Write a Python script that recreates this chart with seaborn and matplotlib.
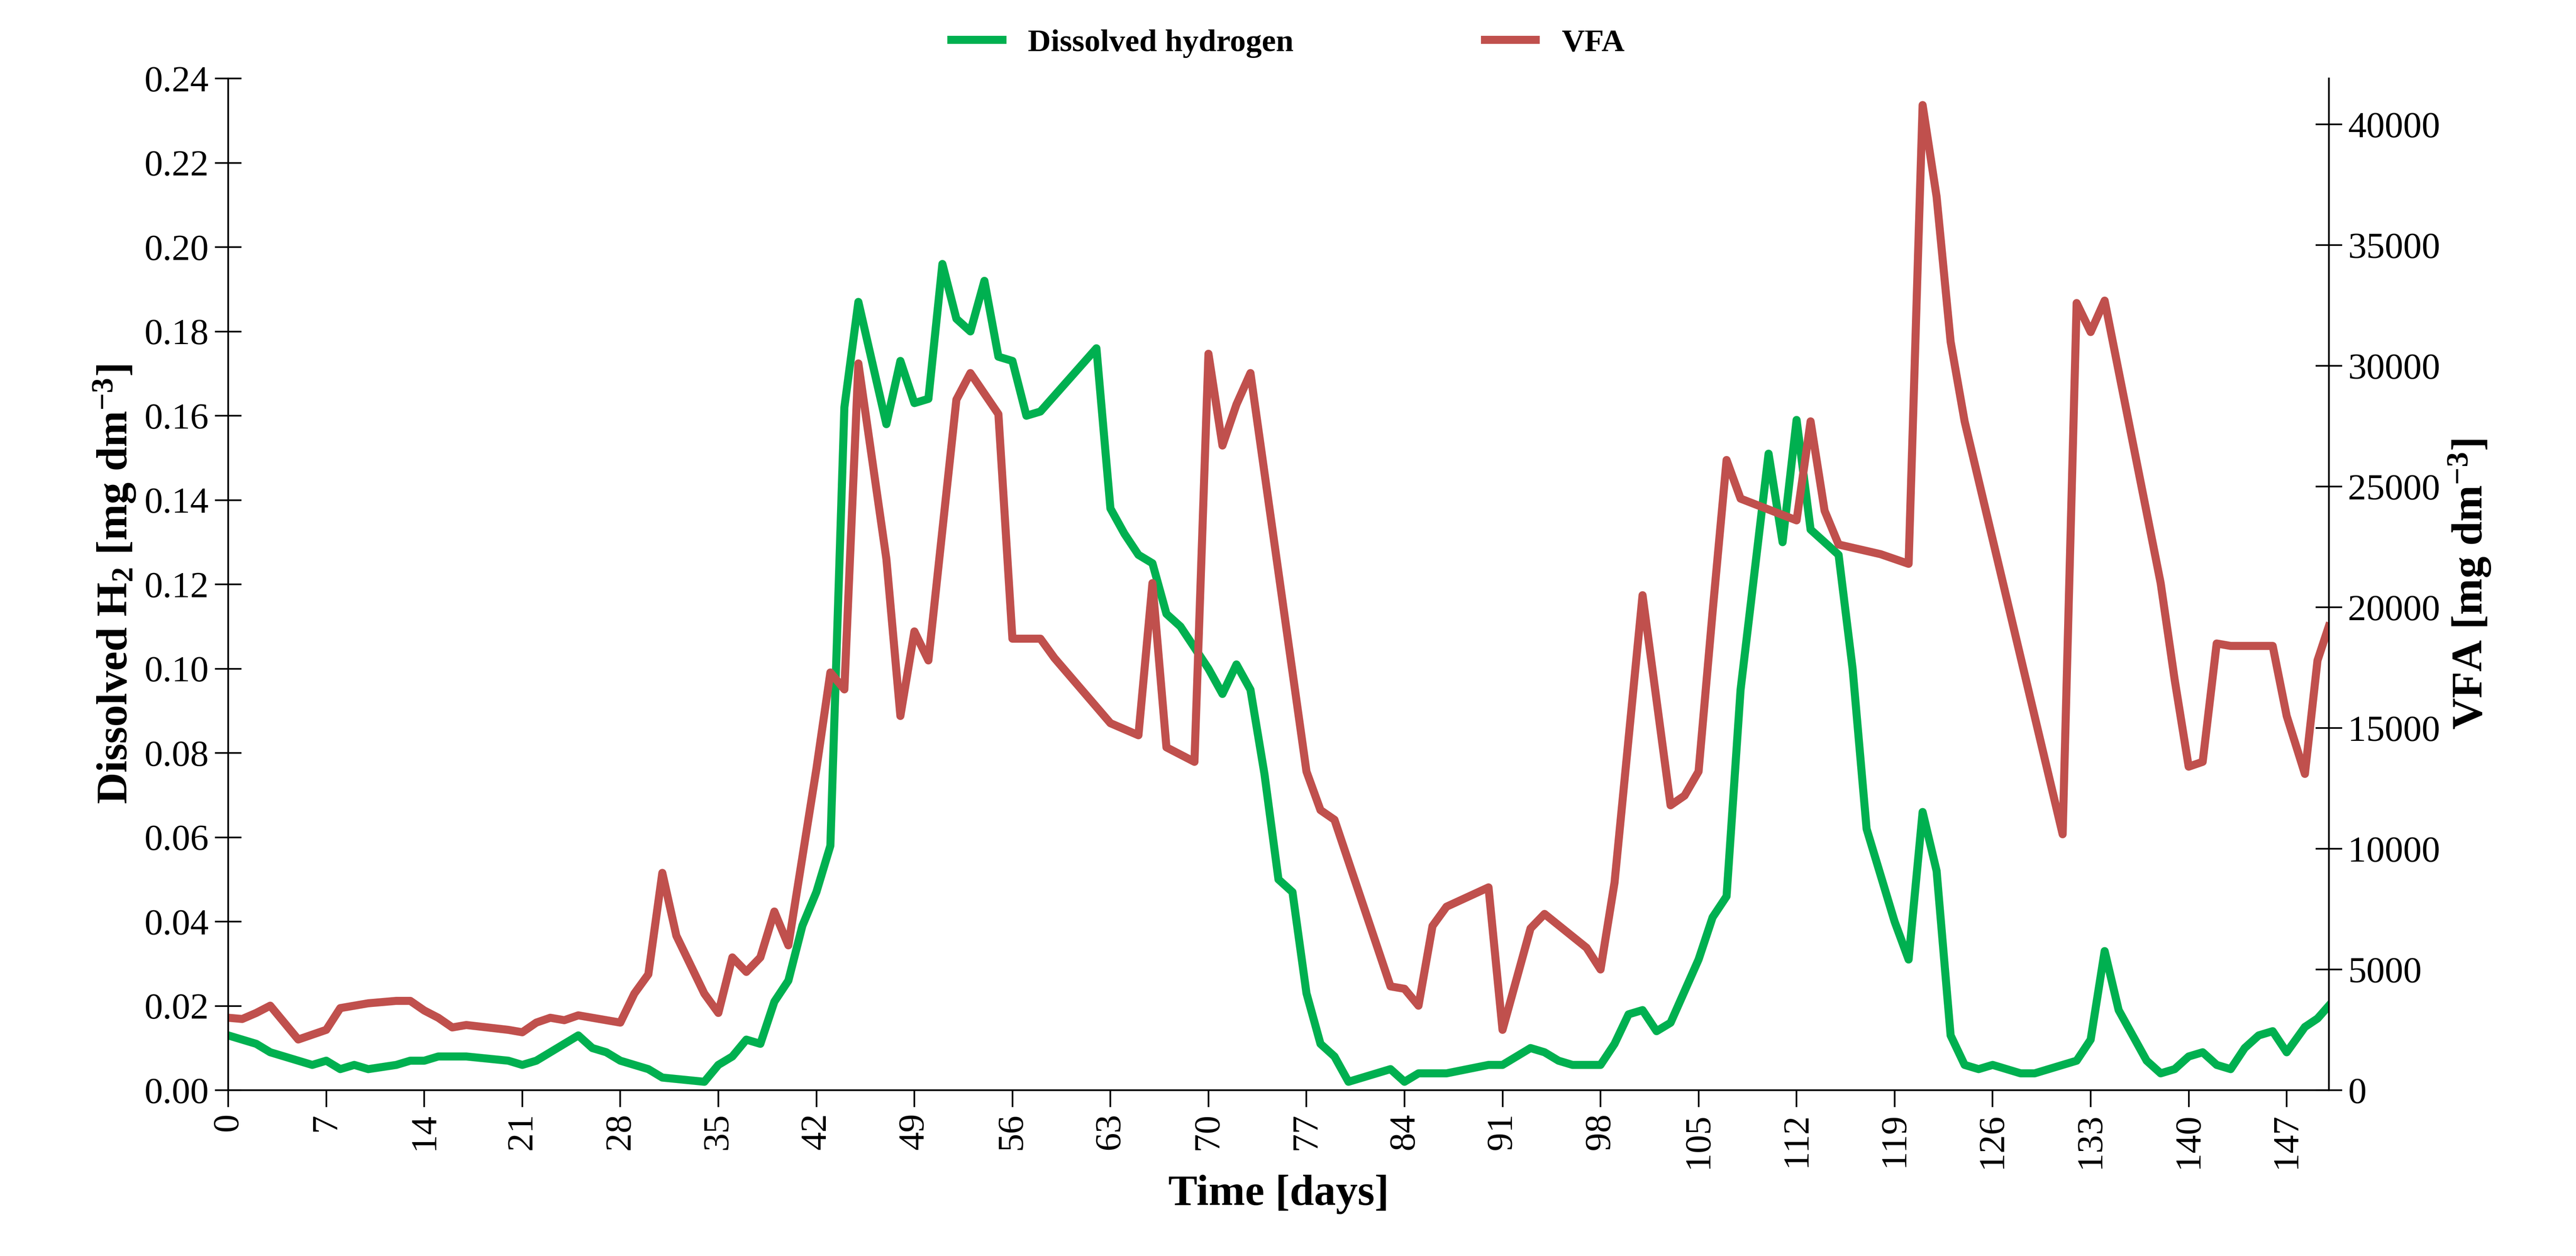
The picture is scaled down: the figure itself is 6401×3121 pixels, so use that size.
import matplotlib
matplotlib.use("Agg")
import matplotlib.pyplot as plt
import seaborn as sns
import pandas as pd

h2_days = [0,1,2,3,4,5,6,7,8,9,10,12,13,14,15,17,20,21,22,24,25,26,27,28,29,30,31,34,35,36,37,38,39,40,41,42,43,44,45,47,48,49,50,51,52,53,54,55,56,57,58,62,63,64,65,66,67,68,70,71,72,73,74,75,76,77,78,79,80,83,84,85,87,90,91,93,94,95,96,98,99,100,101,102,103,105,106,107,108,110,111,112,113,115,116,117,119,120,121,122,123,124,125,126,128,129,132,133,134,135,137,138,139,140,141,142,143,144,145,146,147,148.3,149.2,150]
h2_vals = [0.013,0.012,0.011,0.009,0.008,0.007,0.006,0.007,0.005,0.006,0.005,0.006,0.007,0.007,0.008,0.008,0.007,0.006,0.007,0.011,0.013,0.010,0.009,0.007,0.006,0.005,0.003,0.002,0.006,0.008,0.012,0.011,0.021,0.026,0.039,0.047,0.058,0.162,0.187,0.158,0.173,0.163,0.164,0.196,0.183,0.180,0.192,0.174,0.173,0.160,0.161,0.176,0.138,0.132,0.127,0.125,0.113,0.110,0.100,0.094,0.101,0.095,0.075,0.050,0.047,0.023,0.011,0.008,0.002,0.005,0.002,0.004,0.004,0.006,0.006,0.010,0.009,0.007,0.006,0.006,0.011,0.018,0.019,0.014,0.016,0.031,0.041,0.046,0.095,0.151,0.130,0.159,0.133,0.127,0.100,0.062,0.040,0.031,0.066,0.052,0.013,0.006,0.005,0.006,0.004,0.004,0.007,0.012,0.033,0.019,0.007,0.004,0.005,0.008,0.009,0.006,0.005,0.010,0.013,0.014,0.009,0.015,0.017,0.020]

vfa_days = [0,1,2,3,4,5,6,7,8,10,12,13,14,15,16,17,20,21,22,23,24,25,26,27,28,29,30,31,32,34,35,36,37,38,39,40,42,43,44,45,47,48,49,50,52,53,55,56,58,59,63,65,66,67,69,70,71,72,73,77,78,79,83,84,85,86,87,90,91,93,94,97,98,99,101,103,104,105,106,107,108,112,113,114,115,118,120,121,122,123,124,131,132,133,134,138,139,140,141,142,143,146,147,148.3,149.2,150]
vfa_vals = [3000,2950,3200,3500,2800,2100,2300,2500,3400,3600,3700,3700,3300,3000,2600,2700,2500,2400,2800,3000,2900,3100,3000,2900,2800,4000,4800,9000,6400,4000,3200,5500,4900,5500,7400,6000,13300,17300,16600,30100,22000,15500,19000,17800,28600,29700,28000,18700,18700,17900,15200,14700,21000,14200,13600,30500,26700,28400,29700,13200,11600,11200,4300,4200,3500,6800,7600,8400,2500,6700,7300,5900,5000,8600,20500,11800,12200,13200,19800,26100,24500,23600,27700,24000,22600,22200,21800,40800,37000,31000,27700,10600,32600,31400,32700,21000,17000,13400,13600,18500,18400,18400,15500,13100,17800,19200]

x_ticks = list(range(0, 148, 7))
left_ticks = [0.00,0.02,0.04,0.06,0.08,0.10,0.12,0.14,0.16,0.18,0.20,0.22,0.24]
right_ticks = list(range(0, 40001, 5000))

plt.rcParams["font.family"] = "Liberation Serif"
plt.rcParams["mathtext.fontset"] = "custom"
plt.rcParams["mathtext.rm"] = "Liberation Serif:bold"
plt.rcParams["mathtext.bf"] = "Liberation Serif:bold"
plt.rcParams["mathtext.it"] = "Liberation Serif:bold"

fig = plt.figure(figsize=(6401/300, 3121/300), dpi=300)
ax = fig.add_axes([0.0886, 0.132, 0.904 - 0.0886, 0.8055])
ax2 = ax.twinx()

green = "#00b050"
red = "#c0504d"
df1 = pd.DataFrame({"day": h2_days, "val": h2_vals})
df2 = pd.DataFrame({"day": vfa_days, "val": vfa_vals})
sns.lineplot(data=df1, x="day", y="val", ax=ax, color=green, lw=4.8, label="Dissolved hydrogen", legend=False)
sns.lineplot(data=df2, x="day", y="val", ax=ax2, color=red, lw=4.8, label="VFA", legend=False)

ax.set_xlim(0, 150)
ax.set_ylim(0, 0.24)
ax2.set_ylim(0, 41900)
ax.set_xticks(x_ticks)
ax.set_xticklabels([str(t) for t in x_ticks], rotation=90)
ax.set_yticks(left_ticks)
ax.set_yticklabels([f"{t:.2f}" for t in left_ticks])
ax2.set_yticks(right_ticks)
ax2.set_yticklabels([str(t) for t in right_ticks])
for a in (ax, ax2):
    a.tick_params(labelsize=22, length=10, width=1)
    for s in a.spines.values():
        s.set_linewidth(1)
ax.tick_params(axis="y", direction="inout", length=16)
ax2.tick_params(axis="y", direction="inout", length=16)
ax.spines["top"].set_visible(False)
ax2.spines["top"].set_visible(False)
ax.set_xlabel("Time [days]", fontsize=26, fontweight="bold")
ax.set_ylabel(r"Dissolved H$_2$ [mg dm$^{-3}$]", fontsize=26, fontweight="bold")
ax2.set_ylabel(r"VFA [mg dm$^{-3}$]", fontsize=26, fontweight="bold")

h1, l1 = ax.get_legend_handles_labels()
h2, l2 = ax2.get_legend_handles_labels()
fig.legend(h1 + h2, l1 + l2, loc="upper center", bbox_to_anchor=(0.5, 1.0), ncol=2,
           frameon=False, prop={"weight": "bold", "size": 19}, columnspacing=6, handlelength=1.6)

fig.savefig("out.png", dpi=300)
